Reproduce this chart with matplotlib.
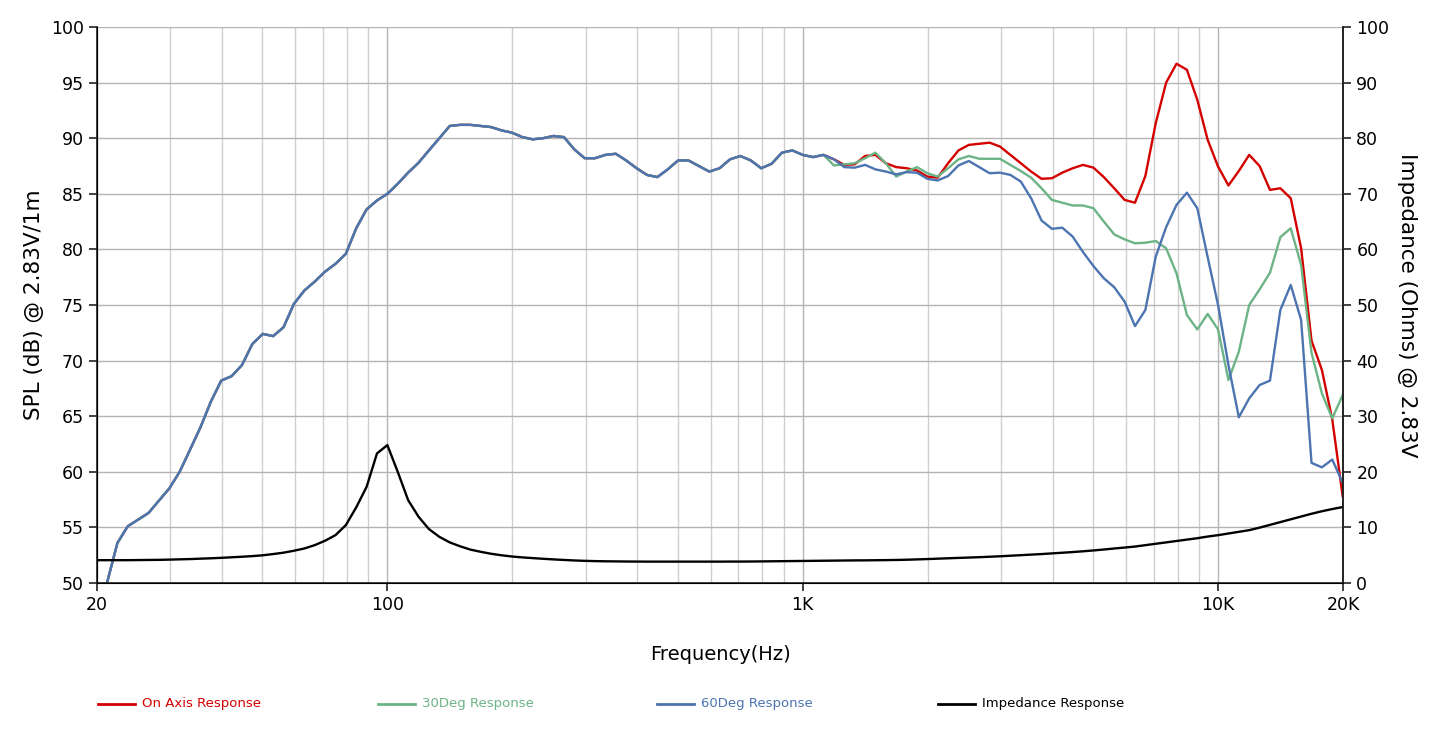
import matplotlib
matplotlib.use("Agg")
import matplotlib.pyplot as plt
from matplotlib.ticker import FixedLocator, NullFormatter, LogLocator
from matplotlib.lines import Line2D

# 1/12-octave measurement frequencies (Hz)
freq = [
    19.95, 21.13, 22.39, 23.71, 25.12, 26.61, 28.18, 29.85, 31.62, 33.50,
    35.48, 37.58, 39.81, 42.17, 44.67, 47.32, 50.12, 53.09, 56.23, 59.57,
    63.10, 66.83, 70.79, 74.99, 79.43, 84.14, 89.13, 94.41, 100.0, 105.9,
    112.2, 118.9, 125.9, 133.4, 141.3, 149.6, 158.5, 167.9, 177.8, 188.4,
    199.5, 211.3, 223.9, 237.1, 251.2, 266.1, 281.8, 298.5, 316.2, 335.0,
    354.8, 375.8, 398.1, 421.7, 446.7, 473.2, 501.2, 530.9, 562.3, 595.7,
    631.0, 668.3, 707.9, 749.9, 794.3, 841.4, 891.3, 944.1, 1000, 1059,
    1122, 1189, 1259, 1334, 1413, 1496, 1585, 1679, 1778, 1884,
    1995, 2113, 2239, 2371, 2512, 2661, 2818, 2985, 3162, 3350,
    3548, 3758, 3981, 4217, 4467, 4732, 5012, 5309, 5623, 5957,
    6310, 6683, 7079, 7499, 7943, 8414, 8913, 9441, 10000, 10593,
    11220, 11885, 12589, 13335, 14125, 14962, 15849, 16788, 17783, 18836,
    19953,
]
spl_freq = freq[1:]

# SPL below ~1.1 kHz is the same for all three angles
spl_common = [
    50.0, 53.6, 55.1, 55.7, 56.3, 57.4, 58.5, 60.0, 62.0, 64.0,
    66.3, 68.2, 68.6, 69.6, 71.5, 72.4, 72.2, 73.0, 75.1, 76.3,
    77.1, 78.0, 78.7, 79.6, 81.9, 83.6, 84.4, 85.0, 85.9, 86.9,
    87.8, 88.9, 90.0, 91.1, 91.2, 91.2, 91.1, 91.0, 90.7, 90.5,
    90.1, 89.9, 90.0, 90.2, 90.1, 89.0, 88.2, 88.2, 88.5, 88.6,
    88.0, 87.3, 86.7, 86.5, 87.2, 88.0, 88.0, 87.5, 87.0, 87.3,
    88.1, 88.4, 88.0, 87.3, 87.7, 88.7, 88.9, 88.5, 88.3, 88.5,
]

on_axis = spl_common + [
    88.1, 87.6, 87.65, 88.4, 88.5, 87.75, 87.4, 87.3, 87.1, 86.55,
    86.45, 87.75, 88.9, 89.4, 89.5, 89.6, 89.25, 88.5, 87.75, 87.0,
    86.35, 86.4, 86.9, 87.3, 87.6, 87.35, 86.5, 85.5, 84.45, 84.2,
    86.6, 91.35, 95.0, 96.7, 96.15, 93.45, 89.85, 87.45, 85.75, 87.05,
    88.5, 87.5, 85.35, 85.5, 84.6, 80.1, 71.8, 69.15, 64.7, 57.8,
]

deg30 = spl_common + [
    87.55, 87.65, 87.75, 88.2, 88.7, 87.75, 86.55, 87.0, 87.4, 86.85,
    86.55, 87.3, 88.1, 88.4, 88.15, 88.15, 88.15, 87.6, 87.05, 86.45,
    85.5, 84.45, 84.2, 83.95, 83.95, 83.7, 82.5, 81.35, 80.9, 80.55,
    80.6, 80.75, 80.1, 77.85, 74.1, 72.8, 74.2, 72.8, 68.25, 70.8,
    75.0, 76.4, 77.9, 81.1, 81.9, 78.6, 70.7, 67.05, 64.8, 66.9,
]

deg60 = spl_common + [
    88.1, 87.4, 87.35, 87.6, 87.2, 87.0, 86.75, 86.95, 86.9, 86.35,
    86.2, 86.6, 87.55, 87.95, 87.4, 86.85, 86.9, 86.7, 86.1, 84.6,
    82.6, 81.85, 81.95, 81.15, 79.75, 78.5, 77.4, 76.6, 75.3, 73.1,
    74.55, 79.35, 82.0, 84.0, 85.1, 83.7, 79.3, 75.0, 69.6, 64.9,
    66.6, 67.8, 68.2, 74.55, 76.8, 73.65, 60.8, 60.4, 61.1, 59.0,
]

impedance = [
    4.1, 4.1, 4.1, 4.1, 4.12, 4.14, 4.16, 4.2, 4.25, 4.3,
    4.37, 4.44, 4.52, 4.62, 4.72, 4.83, 4.98, 5.2, 5.45, 5.8,
    6.2, 6.8, 7.6, 8.6, 10.4, 13.6, 17.3, 23.3, 24.8, 20.0,
    14.9, 11.9, 9.7, 8.3, 7.3, 6.6, 6.0, 5.6, 5.25, 4.98,
    4.76, 4.6, 4.47, 4.35, 4.24, 4.14, 4.05, 3.98, 3.93, 3.9,
    3.88, 3.86, 3.85, 3.84, 3.84, 3.84, 3.84, 3.84, 3.84, 3.84,
    3.84, 3.85, 3.85, 3.86, 3.88, 3.9, 3.92, 3.94, 3.96, 3.98,
    4.0, 4.02, 4.04, 4.06, 4.07, 4.09, 4.11, 4.14, 4.18, 4.24,
    4.3, 4.37, 4.44, 4.51, 4.57, 4.64, 4.72, 4.8, 4.9, 5.0,
    5.1, 5.2, 5.32, 5.44, 5.56, 5.7, 5.85, 6.02, 6.2, 6.37,
    6.55, 6.8, 7.05, 7.3, 7.55, 7.8, 8.05, 8.35, 8.6, 8.9,
    9.2, 9.5, 9.95, 10.45, 10.95, 11.45, 11.95, 12.45, 12.9, 13.3,
    13.65,
]

x_ticks = [20, 100, 1000, 10000, 20000]
x_labels = ["20", "100", "1K", "10K", "20K"]

RED = "#d40000"
GREEN = "#6cb386"
BLUE = "#4c74b0"
BLACK = "#000000"

plt.rcParams["font.family"] = ["DejaVu Sans"]

fig = plt.figure(figsize=(14.4, 7.4), dpi=100)
ax = fig.add_axes([0.0674, 0.2122, 0.8653, 0.7513])

ax.plot(spl_freq, on_axis, color=RED, lw=1.7)
ax.plot(spl_freq, deg30, color=GREEN, lw=1.7)
ax.plot(spl_freq, deg60, color=BLUE, lw=1.7)

ax.set_xscale("log")
ax.set_xlim(20, 20000)
ax.set_ylim(50, 100)
ax.set_yticks(range(50, 101, 5))
ax.xaxis.set_major_locator(FixedLocator(x_ticks))
ax.set_xticklabels(x_labels)
ax.xaxis.set_minor_locator(LogLocator(base=10, subs=range(2, 10), numticks=20))
ax.xaxis.set_minor_formatter(NullFormatter())
ax.tick_params(axis="x", which="minor", length=0)
ax.tick_params(axis="both", which="major", labelsize=12.5, length=6, width=1.2, color="#222222")

ax.grid(True, which="major", axis="both", color="#b4b4b4", lw=1.0)
ax.grid(True, which="minor", axis="x", color="#cfcfcf", lw=1.0)
ax.set_axisbelow(True)

for side in ["left", "bottom", "right"]:
    ax.spines[side].set_color("#222222")
    ax.spines[side].set_linewidth(1.2)
ax.spines["top"].set_visible(False)

ax.set_xlabel("Frequency(Hz)", fontsize=14, labelpad=22)
ax.set_ylabel("SPL (dB) @ 2.83V/1m", fontsize=15.5, labelpad=5)

ax2 = ax.twinx()
ax2.plot(freq, impedance, color=BLACK, lw=1.7)
ax2.set_ylim(0, 100)
ax2.set_yticks(range(0, 101, 10))
ax2.tick_params(axis="y", labelsize=12.5, length=6, width=1.2, color="#222222")
ax2.spines["top"].set_visible(False)
ax2.spines["right"].set_color("#222222")
ax2.spines["right"].set_linewidth(1.2)
ax2.set_ylabel("Impedance (Ohms) @ 2.83V", fontsize=15.5, rotation=-90, labelpad=20)

# legend row along the bottom
legend_items = [
    ("On Axis Response", RED, 98),
    ("30Deg Response", GREEN, 378),
    ("60Deg Response", BLUE, 657),
    ("Impedance Response", BLACK, 938),
]
y_leg = 1 - 704 / 740
for label, color, px in legend_items:
    x0 = px / 1440
    fig.add_artist(Line2D([x0, x0 + 37 / 1440], [y_leg, y_leg], color=color, lw=2,
                          transform=fig.transFigure))
    fig.text(x0 + 44 / 1440, y_leg, label, color=color, fontsize=9.5, va="center", ha="left")

fig.savefig("out.png", dpi=100)
